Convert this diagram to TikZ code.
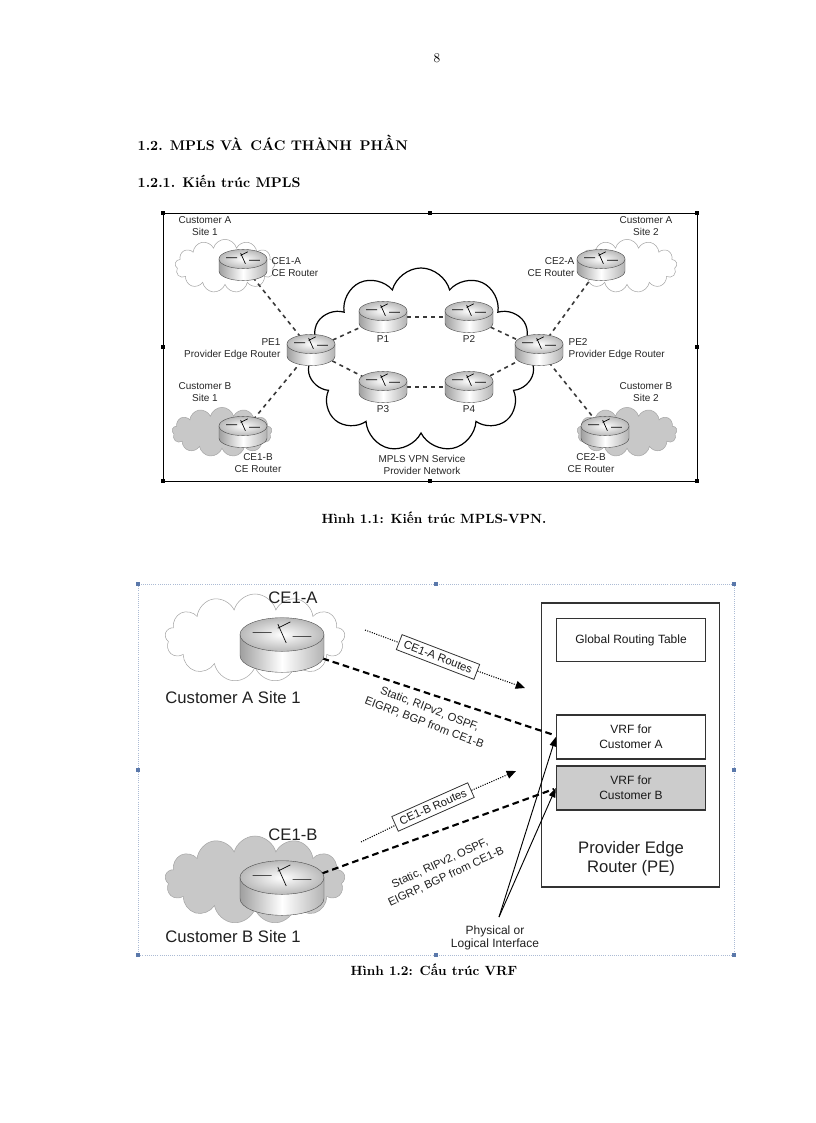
\documentclass[tikz,border=0pt]{standalone}
\usepackage{fontspec}
\setsansfont{Liberation Sans}
\usetikzlibrary{shapes.symbols,arrows.meta}
\definecolor{grisnuage}{RGB}{200,200,200}
\definecolor{bleupoignee}{RGB}{90,120,170}
% routeur : coordonnee, demi-largeur (px)
\newcommand{\routeur}[2]{%
  \begin{scope}[shift={(#1)},scale=#2]
    \shade[left color=gray!75,right color=gray!60,middle color=white,draw=gray!60!black,line width=0.3pt]
      (-1,-0.25) -- (-1,0.25) arc[start angle=180,end angle=0,x radius=1,y radius=0.4] -- (1,-0.25) -- cycle;
    \shade[inner color=white,outer color=gray!55,draw=gray!60!black,line width=0.3pt]
      (0,-0.25) ellipse[x radius=1,y radius=0.4];
    \draw[line width=0.5pt] (-0.7,-0.3) -- (-0.25,-0.3) (0.25,-0.2) -- (0.7,-0.2)
      (-0.1,-0.5) -- (0.1,-0.05) (0.2,-0.55) -- (-0.1,-0.4);
  \end{scope}}
\tikzset{
  lien/.style={dashed,gray!45!black,line width=1.2pt},
  etiq/.style={font=\sffamily\fontsize{7.5}{8.5}\selectfont,align=center,text=gray!30!black,inner sep=1pt},
  nuage/.style={cloud,cloud puffs=13,aspect=2,draw=gray!70,inner sep=0pt},
  boite/.style={draw=gray!40!black,line width=0.8pt,font=\sffamily\fontsize{9}{11}\selectfont,align=center,text=gray!20!black},
  grand/.style={font=\sffamily\fontsize{12.5}{14}\selectfont,text=gray!25!black},
  proto/.style={font=\sffamily\fontsize{8.5}{11}\selectfont,align=center,text=gray!25!black,inner sep=1pt},
  vlan/.style={dashed,line width=1.6pt,dash pattern=on 5pt off 3pt},
  annonce/.style={densely dotted,line width=0.8pt,-{Triangle[length=7pt,width=6pt]}},
  poignee/.style={fill=black,minimum size=3.5pt,inner sep=0pt}
}
\begin{document}
\begin{tikzpicture}[x=0.75pt,y=-0.75pt]
\useasboundingbox (0,0) rectangle (816,1123);
% Texte de la page %
\node (num) at (437,58) {\fontsize{10}{12}\selectfont 8};
\node[anchor=west] (titre) at (133,143) {\fontsize{10.5}{12}\selectfont\bfseries 1.2. MPLS VÀ\, CÁC THÀNH\, PHẦN};
\node[anchor=west] (soustitre) at (133,181) {\fontsize{10.5}{12}\selectfont\bfseries 1.2.1. Kiến trúc MPLS};
\node (leg1) at (434,518) {\fontsize{10}{12}\selectfont\bfseries Hình 1.1: Kiến trúc MPLS-VPN.};
\node (leg2) at (434,970) {\fontsize{10}{12}\selectfont\bfseries Hình 1.2: Cấu trúc VRF};
% Figure 1.1 %
\draw[line width=0.5pt] (163,213) rectangle (697,481);
\foreach \x/\y in {163/213,430/213,697/213,163/347,697/347,163/481,430/481,697/481}
  \node[poignee] at (\x,\y) {};
\node[nuage,minimum width=75pt,minimum height=40pt] (nA1) at (225,266) {};
\node[nuage,fill=grisnuage,minimum width=75pt,minimum height=37pt] (nB1) at (222,432) {};
\node[nuage,minimum width=75pt,minimum height=40pt] (nA2) at (627,266) {};
\node[nuage,fill=grisnuage,minimum width=75pt,minimum height=37pt] (nB2) at (627,432) {};
\node[cloud,cloud puffs=11,aspect=1.25,draw=black,line width=0.9pt,minimum width=170pt,minimum height=138pt] (mpls) at (421,360) {};
\coordinate (ce1a) at (243,265);
\coordinate (ce1b) at (243,432);
\coordinate (pe1) at (311,350);
\coordinate (p1) at (383,317);
\coordinate (p2) at (469,317);
\coordinate (p3) at (383,387);
\coordinate (p4) at (469,387);
\coordinate (pe2) at (539,350);
\coordinate (ce2a) at (601,265);
\coordinate (ce2b) at (605,432);
\foreach \a/\b in {ce1a/pe1,ce1b/pe1,pe1/p1,pe1/p3,p1/p2,p3/p4,p2/pe2,p4/pe2,pe2/ce2a,pe2/ce2b}
  \draw[lien] (\a) -- (\b);
\foreach \r in {ce1a,ce1b,pe1,p1,p2,p3,p4,pe2,ce2a,ce2b}
  \routeur{\r}{24};
\node[etiq,anchor=west,align=left] (lce1a) at (270,267) {CE1-A\\CE Router};
\node[etiq] (lce1b) at (258,463) {CE1-B\\CE Router};
\node[etiq,anchor=east,align=right] (lce2a) at (576,267) {CE2-A\\CE Router};
\node[etiq] (lce2b) at (591,463) {CE2-B\\CE Router};
\node[etiq,anchor=east,align=right] (lpe1) at (282,349) {PE1\\Provider Edge Router};
\node[etiq,anchor=west,align=left] (lpe2) at (567,349) {PE2\\Provider Edge Router};
\node[etiq] (lp1) at (383,339) {P1};
\node[etiq] (lp2) at (469,339) {P2};
\node[etiq] (lp3) at (383,409) {P3};
\node[etiq] (lp4) at (469,409) {P4};
\node[etiq] (lsa1) at (205,226) {Customer A\\Site 1};
\node[etiq] (lsa2) at (646,226) {Customer A\\Site 2};
\node[etiq] (lsb1) at (205,392) {Customer B\\Site 1};
\node[etiq] (lsb2) at (646,392) {Customer B\\Site 2};
\node[etiq] (lmpls) at (422,465) {MPLS VPN Service\\Provider Network};
% Figure 1.2 %
\draw[bleupoignee!50,densely dotted,line width=0.6pt] (138,584) rectangle (734,955);
\foreach \x/\y in {138/584,436/584,734/584,138/770,734/770,138/955,436/955,734/955}
  \node[fill=bleupoignee,minimum size=3pt,inner sep=0pt] at (\x,\y) {};
\node[nuage,minimum width=135pt,minimum height=66pt] (cloudA) at (255,638) {};
\node[nuage,fill=grisnuage,minimum width=135pt,minimum height=66pt] (cloudB) at (255,880) {};
\coordinate (routeurA) at (282,645);
\coordinate (routeurB) at (282,888);
\node[draw=gray!40!black,line width=0.8pt,minimum width=134pt,minimum height=213pt] (pe) at (630.5,745) {};
\node[boite,minimum width=112pt,minimum height=32pt] (grt) at (631,640) {Global Routing Table};
\node[boite,minimum width=112pt,minimum height=33pt] (vrfa) at (631,737) {VRF for\\Customer A};
\node[boite,fill=gray!40,minimum width=112pt,minimum height=33pt] (vrfb) at (631,788) {VRF for\\Customer B};
\node[grand,align=center] (lpe) at (631,859) {Provider Edge\\Router (PE)};
\coordinate (finA) at (554,735);
\coordinate (finB) at (554,789);
\draw[vlan] (routeurA) -- (finA);
\draw[vlan] (routeurB) -- (finB);
\routeur{routeurA}{42}
\routeur{routeurB}{42}
\node[grand] (lce1a2) at (293,598) {CE1-A};
\node[grand] (lce1b2) at (293,835) {CE1-B};
\node[grand] (lsiteA) at (233,698) {Customer A Site 1};
\node[grand] (lsiteB) at (233,937) {Customer B Site 1};
\coordinate (debA) at (365,630);
\coordinate (pointeA) at (525,688);
\coordinate (debB) at (361,842);
\coordinate (pointeB) at (516,771);
\node[boite,fill=white,line width=0.6pt,rotate=-21,inner xsep=4pt,inner ysep=3pt,font=\sffamily\fontsize{8.5}{10}\selectfont] (routesA) at (438,657) {CE1-A Routes};
\node[boite,fill=white,line width=0.6pt,rotate=24,inner xsep=4pt,inner ysep=3pt,font=\sffamily\fontsize{8.5}{10}\selectfont] (routesB) at (433,807) {CE1-B Routes};
\draw[densely dotted,line width=0.8pt] (debA) -- (routesA);
\draw[annonce] (routesA) -- (pointeA);
\draw[densely dotted,line width=0.8pt] (debB) -- (routesB);
\draw[annonce] (routesB) -- (pointeB);
\node[proto,rotate=-21] (protoA) at (427,716) {Static, RIPv2, OSPF,\\EIGRP, BGP from CE1-B};
\node[proto,rotate=25] (protoB) at (443,870) {Static, RIPv2, OSPF,\\EIGRP, BGP from CE1-B};
\node[proto,font=\sffamily\fontsize{9}{10}\selectfont] (interface) at (495,938) {Physical or\\Logical Interface};
\coordinate (phys) at (499,917);
\draw[-{Triangle[length=7pt,width=5pt]},line width=0.7pt] (phys) -- (vrfa.west);
\draw[-{Triangle[length=7pt,width=5pt]},line width=0.7pt] (phys) -- (vrfb.west);
\end{tikzpicture}
\end{document}
